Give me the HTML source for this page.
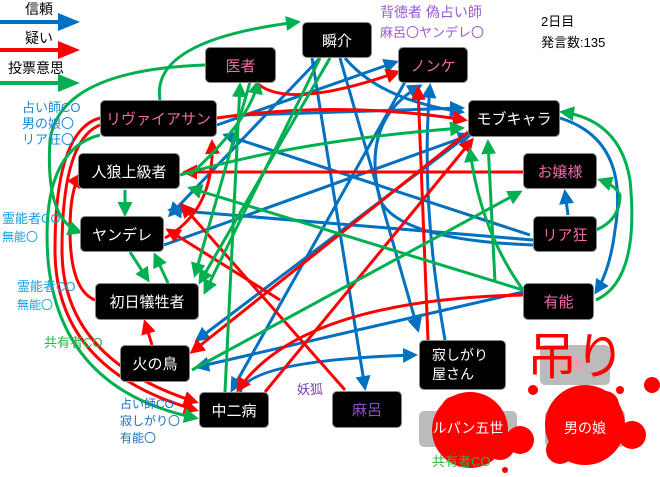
<!DOCTYPE html>
<html><head><meta charset="utf-8"><style>
body{margin:0;width:660px;height:477px;background:#fff;overflow:hidden;position:relative;font-family:"Liberation Sans","Noto Sans CJK JP",sans-serif}
.t{position:absolute;white-space:nowrap;line-height:1}
.n{position:absolute;background:#000;border-radius:5px;color:#fff;font-size:15px;display:flex;align-items:center;justify-content:center;border:1px solid #888;box-sizing:border-box}
.p{color:#f06aa8}
</style></head><body>
<svg width="660" height="477" style="position:absolute;left:0;top:0">
<defs>
<marker id="b" markerWidth="5" markerHeight="5" refX="4" refY="2.5" orient="auto" markerUnits="strokeWidth"><path d="M0,0L5,2.5L0,5z" fill="#0070c0"/></marker>
<marker id="r" markerWidth="5" markerHeight="5" refX="4" refY="2.5" orient="auto" markerUnits="strokeWidth"><path d="M0,0L5,2.5L0,5z" fill="#ff0000"/></marker>
<marker id="g" markerWidth="5" markerHeight="5" refX="4" refY="2.5" orient="auto" markerUnits="strokeWidth"><path d="M0,0L5,2.5L0,5z" fill="#00b050"/></marker>
</defs>
<path d="M0,22H60" stroke="#0070c0" stroke-width="4"/><path d="M58,13L80,22L58,31z" fill="#0070c0"/>
<path d="M0,50H60" stroke="#f00" stroke-width="4"/><path d="M58,41L80,50L58,59z" fill="#f00"/>
<path d="M0,83H60" stroke="#00b050" stroke-width="4"/><path d="M58,74L80,83L58,92z" fill="#00b050"/>
<g fill="none" stroke-width="3">
<g stroke="#0070c0" marker-end="url(#b)">
<path d="M340,58L418,330"/>
<path d="M312,58L365,388"/>
<path d="M345,58Q380,100 462,112"/>
<path d="M533,240L170,210"/>
<path d="M530,235L225,135"/>
<path d="M164,245L470,135"/>
<path d="M240,392Q250,360 415,355"/>
<path d="M523,292L197,367"/>
<path d="M468,135L197,340"/>
<path d="M217,125L396,62"/>
<path d="M445,340Q420,200 430,86"/>
<path d="M245,115L462,108"/>
<path d="M560,118Q630,140 615,230Q610,270 596,292"/>
<path d="M568,215L565,192"/>
<path d="M405,82L232,390"/>
<path d="M320,58L170,215"/>
<path d="M533,245Q400,240 380,200Q360,120 420,86"/>
</g>
<g stroke="#f00" marker-end="url(#r)">
<path d="M217,118Q340,100 465,120"/>
<path d="M258,84Q290,110 398,72"/>
<path d="M523,172L185,172"/>
<path d="M468,132L192,352"/>
<path d="M345,390L182,205"/>
<path d="M165,238Q215,210 212,142"/>
<path d="M428,340L418,88"/>
<path d="M523,295Q300,300 238,390"/>
<path d="M100,118Q55,130 55,250Q55,370 196,410"/>
<path d="M100,125Q62,140 62,250Q62,360 196,402"/>
<path d="M95,300Q70,290 70,230Q70,190 80,175"/>
<path d="M152,345L145,322"/>
<path d="M265,392L472,140"/>
<path d="M280,300L168,230"/>
</g>
<g stroke="#00b050" marker-end="url(#g)">
<path d="M160,100Q150,40 298,22"/>
<path d="M205,65Q60,70 50,140Q45,220 80,232"/>
<path d="M125,190L125,214"/>
<path d="M130,252L148,280"/>
<path d="M168,283L155,255"/>
<path d="M225,392L240,85"/>
<path d="M320,58L205,292"/>
<path d="M330,58L200,282"/>
<path d="M250,82L195,275"/>
<path d="M495,282L488,142"/>
<path d="M180,175Q300,140 462,128"/>
<path d="M596,230Q620,220 620,195Q615,185 600,180"/>
<path d="M596,300Q640,280 630,180Q620,120 562,112"/>
<path d="M523,290L190,188"/>
<path d="M192,370L520,192"/>
<path d="M100,135Q40,150 48,260Q60,390 196,418"/>
<path d="M190,175Q250,120 258,82"/>
<path d="M523,290Q480,230 470,150"/>
</g>
</g>
</svg>
<div class="t" style="left:25px;top:2px;font-size:14px">信頼</div>
<div class="t" style="left:25px;top:31px;font-size:14px">疑い</div>
<div class="t" style="left:8px;top:61px;font-size:14px">投票意思</div>
<div class="t" style="left:380px;top:5px;font-size:14px;color:#9b59d0">背徳者 偽占い師</div>
<div class="t" style="left:380px;top:26px;font-size:13px;color:#9b59d0">麻呂〇ヤンデレ〇</div>
<div class="t" style="left:541px;top:15px;font-size:13px">2日目</div>
<div class="t" style="left:541px;top:36px;font-size:13px">発言数:135</div>
<div class="t" style="left:22px;top:100px;font-size:13px;color:#1a8ad4;line-height:16px">占い師CO<br>男の娘〇<br>リア狂〇</div>
<div class="t" style="left:2px;top:210px;font-size:13px;color:#1aa0e0;line-height:18px">霊能者CO<br><span style="font-size:12px">無能〇</span></div>
<div class="t" style="left:17px;top:278px;font-size:13px;color:#1aa0e0;line-height:18px">霊能者CO<br><span style="font-size:12px">無能〇</span></div>
<div class="t" style="left:44px;top:336px;font-size:13px;color:#2db34a">共有者CO</div>
<div class="t" style="left:120px;top:396px;font-size:12px;color:#1a6ec0;line-height:17px">占い師CO<br>寂しがり〇<br>有能〇</div>
<div class="t" style="left:297px;top:383px;font-size:13px;color:#7a3fb0">妖狐</div>
<div class="n" style="left:540px;top:345px;width:70px;height:40px;background:#bbb;border:none"></div>
<div class="n" style="left:419px;top:411px;width:98px;height:36px;background:#bbb;border:none"></div>
<div class="n" style="left:545px;top:410px;width:80px;height:37px;background:#bbb;border:none"></div>
<svg width="660" height="477" style="position:absolute;left:0;top:0">
<g fill="#f00">
<circle cx="470" cy="430" r="38"/><circle cx="455" cy="410" r="14"/><circle cx="500" cy="445" r="15"/>
<circle cx="585" cy="425" r="40"/><circle cx="605" cy="405" r="14"/><circle cx="560" cy="450" r="14"/>
<circle cx="520" cy="440" r="14"/><circle cx="632" cy="435" r="14"/><circle cx="652" cy="385" r="8"/>
<circle cx="533" cy="390" r="5"/><circle cx="620" cy="390" r="4"/><circle cx="505" cy="470" r="3"/>
</g>
</svg>
<div class="t" style="left:555px;top:357px;font-size:15px;color:#f9a">無能</div>
<div class="t" style="left:527px;top:332px;font-size:50px;color:#f00;letter-spacing:-2px">吊り</div>
<div class="t" style="left:419px;top:421px;width:98px;text-align:center;color:#fff;font-size:14px">ルパン五世</div>
<div class="t" style="left:545px;top:421px;width:80px;text-align:center;color:#fff;font-size:14px">男の娘</div>
<div class="t" style="left:432px;top:455px;font-size:13px;color:#2db34a">共有者CO</div>
<div class="n p" style="left:205px;top:47px;width:71px;height:36px">医者</div>
<div class="n" style="left:302px;top:22px;width:70px;height:36px">瞬介</div>
<div class="n p" style="left:398px;top:47px;width:70px;height:36px">ノンケ</div>
<div class="n p" style="left:100px;top:100px;width:117px;height:37px">リヴァイアサン</div>
<div class="n" style="left:468px;top:100px;width:92px;height:37px">モブキャラ</div>
<div class="n" style="left:78px;top:153px;width:102px;height:36px">人狼上級者</div>
<div class="n p" style="left:523px;top:153px;width:74px;height:36px">お嬢様</div>
<div class="n" style="left:80px;top:216px;width:84px;height:36px">ヤンデレ</div>
<div class="n p" style="left:533px;top:216px;width:64px;height:36px">リア狂</div>
<div class="n" style="left:95px;top:283px;width:104px;height:37px">初日犠牲者</div>
<div class="n p" style="left:523px;top:283px;width:71px;height:37px">有能</div>
<div class="n" style="left:120px;top:345px;width:70px;height:37px">火の鳥</div>
<div class="n" style="left:419px;top:340px;width:87px;height:50px;justify-content:flex-start;padding-left:12px;font-size:14px;line-height:19px"><span>寂しがり<br>屋さん</span></div>
<div class="n" style="left:332px;top:391px;width:70px;height:37px;color:#8a4fc8">麻呂</div>
<div class="n" style="left:199px;top:392px;width:70px;height:36px">中二病</div>
</body></html>
